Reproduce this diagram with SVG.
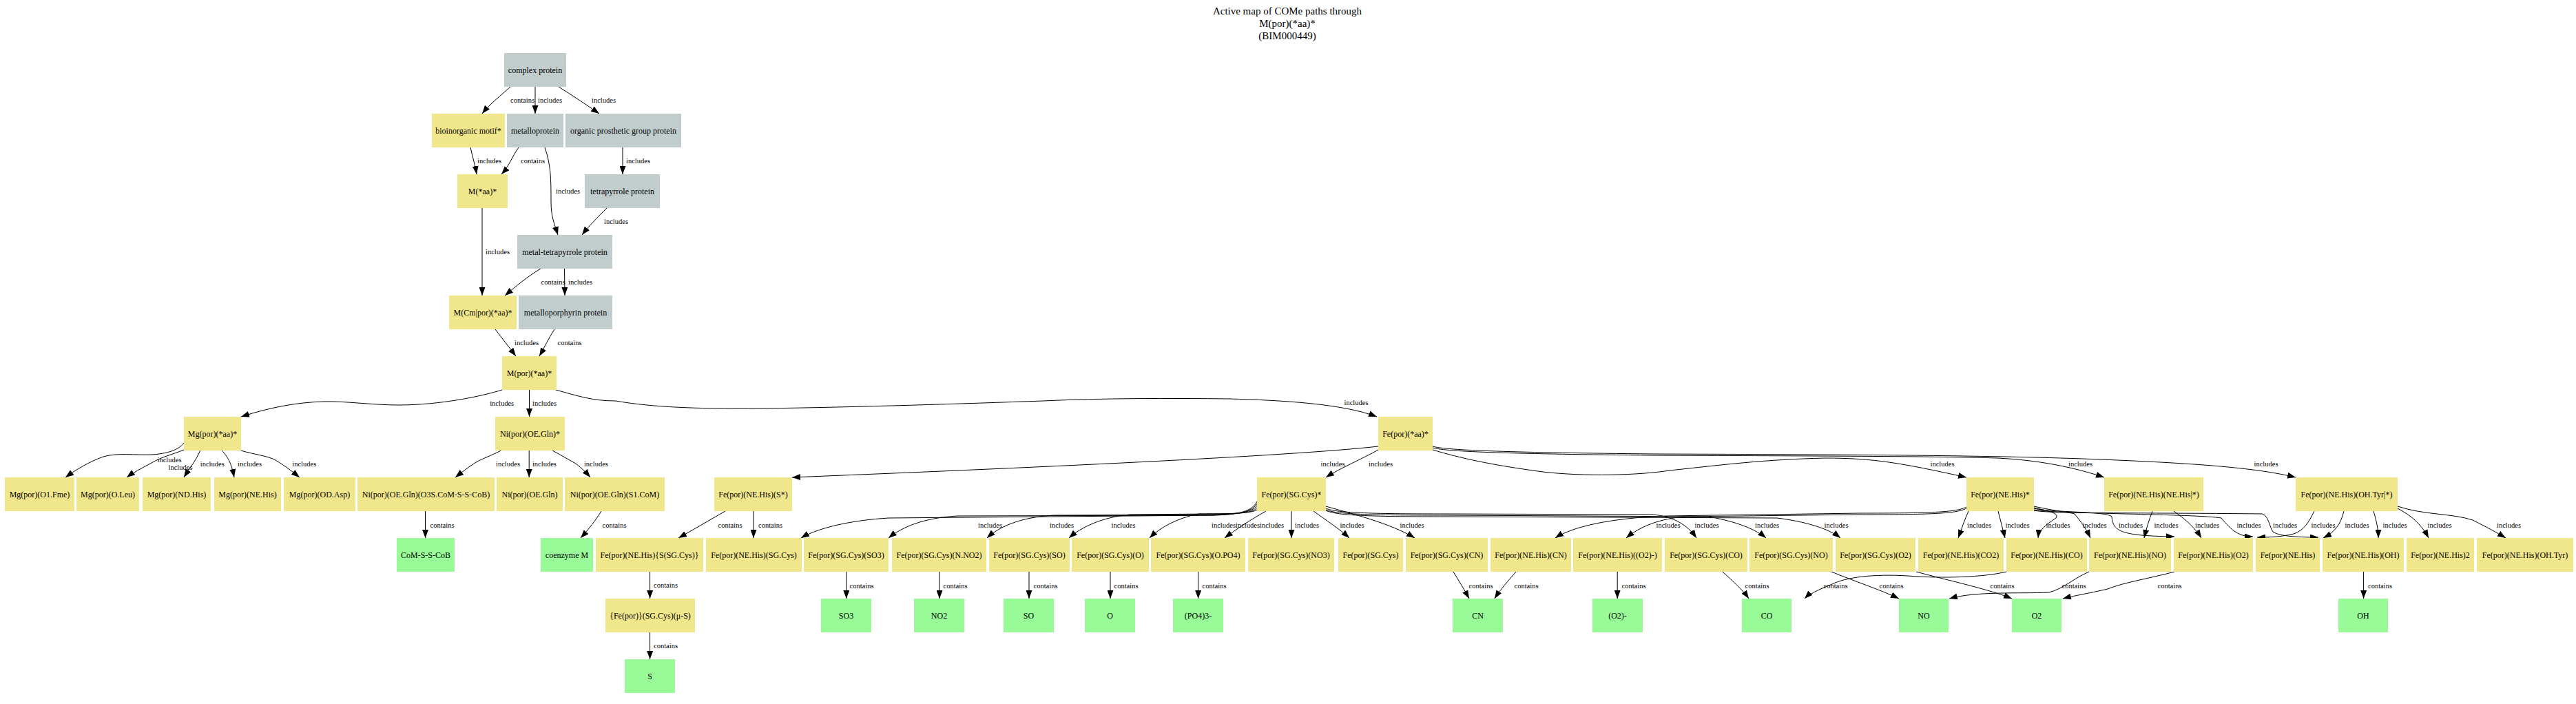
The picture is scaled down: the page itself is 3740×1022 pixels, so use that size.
<svg xmlns="http://www.w3.org/2000/svg" width="3740" height="1022" viewBox="0 0 3740 1022">
<style>
.y{fill:#f0e68c}
.g{fill:#c1cdcd}
.p{fill:#98fb98}
text{font-family:"Liberation Serif","Times New Roman",serif;fill:#000}
.n{font-size:12px;text-anchor:middle}
.l{font-size:10.5px;text-anchor:middle}
.t{font-size:15px;text-anchor:middle}
.e path{fill:none;stroke:#000;stroke-width:1;marker-end:url(#a)}
</style>
<defs>
<marker id="a" markerWidth="12" markerHeight="9" refX="12" refY="4.5" orient="auto" markerUnits="userSpaceOnUse"><path d="M0,0 L12,4.5 L0,9 z" style="fill:#000;stroke:none"/></marker>
</defs>
<rect x="0" y="0" width="3740" height="1022" fill="#fff"/>
<g id="title">
<text class="t" x="1869" y="21">Active map of COMe paths through</text>
<text class="t" x="1869" y="39">M(por)(*aa)*</text>
<text class="t" x="1869" y="57">(BIM000449)</text>
</g>
<g class="e" id="edges">
<path d="M741,126 C728,138 712,150 700,165"/>
<path d="M777,126 L777,165"/>
<path d="M811,126 C830,138 850,151 870,165"/>
<path d="M683,214 C686,228 690,240 692,253"/>
<path d="M753,214 C743,228 740,240 728,253"/>
<path d="M791,214 C800,240 800,260 800,293 C800,315 805,325 810,341"/>
<path d="M904,214 L904,253"/>
<path d="M881,302 C868,315 855,328 845,341"/>
<path d="M700,302 L700,429"/>
<path d="M785,390 C765,402 750,415 733,429"/>
<path d="M819.5,390 L820,429"/>
<path d="M719,478 C728,490 740,505 749,517"/>
<path d="M805,478 C797,490 790,505 783,517"/>
<path d="M729,566 C700,575 640,588 578,588 C540,588 500,582 470,583 C430,584 390,592 350,605"/>
<path d="M768.5,566 L768.5,605"/>
<path d="M807,566 C840,575 860,582 894,582 C940,590 1000,594 1107,593 C1250,591 1400,586 1514,582 C1600,578 1700,578 1785,579 C1860,581 1950,586 1999,605"/>
<path d="M267,643 C262,650 250,658 221,660 C195,661 170,657 150,663 C130,670 110,682 95,693"/>
<path d="M267,653 C250,660 235,663 220,672 C205,680 192,687 184,693"/>
<path d="M290.6,654 C285,668 275,680 267,693"/>
<path d="M322,654 C330,662 336,672 340,693"/>
<path d="M349.5,654 C370,660 390,662 400,668 C415,677 425,685 435,693"/>
<path d="M727.5,654 C712,662 700,666 693,670 C680,678 670,686 661,693"/>
<path d="M768.2,654 L768.2,693"/>
<path d="M802,654 C815,661 825,667 836,673 C845,680 852,687 857,693"/>
<path d="M617.5,742 L617.5,781"/>
<path d="M873,742 C865,755 855,768 843,781"/>
<path d="M943.6,830 L943.6,869"/>
<path d="M943.6,918 L943.6,957"/>
<path d="M2001,648 Q1850,665 1150,693"/>
<path d="M2001,653 C1980,665 1945,680 1925,693"/>
<path d="M2080,653 C2120,665 2165,675 2240,685 C2300,692 2380,690 2424,683 C2500,675 2560,667 2650,665 C2720,665 2760,672 2855,693"/>
<path d="M2080,650 C2100,656 2200,659 2400,661 C2600,662 2800,662 2900,665 C2960,668 3010,678 3055,693"/>
<path d="M2080,648 C2100,654 2200,657 2400,659 C2700,660 2900,661 3050,667 C3200,673 3280,680 3333,693"/>
<path d="M1053,742 C1030,755 1005,770 985,781"/>
<path d="M1094,742 L1094,781"/>
<path d="M1825,728 C1818,742 1800,747 1760,748 L1290,752 C1240,755 1190,765 1163,781"/>
<path d="M1825,731 C1818,743 1800,747 1760,748 L1390,749 C1340,752 1310,765 1290,781"/>
<path d="M1825,734 C1818,744 1800,746 1760,747 L1530,748 C1480,751 1450,765 1433,781"/>
<path d="M1825,737 C1818,745 1800,746 1760,746 L1640,747 C1600,751 1570,765 1552,781"/>
<path d="M1825,740 C1818,745 1790,746 1740,746 C1710,752 1685,765 1669,781"/>
<path d="M1838,742 C1815,755 1795,768 1778,781"/>
<path d="M1875,742 L1875,781"/>
<path d="M1907,742 C1925,755 1945,768 1959,781"/>
<path d="M1925,735 C1960,745 2020,760 2054,781"/>
<path d="M1925,738 C1940,745 2000,746 2100,746 L2400,747 C2430,750 2450,762 2463,781"/>
<path d="M1925,740 C1940,747 2000,748 2100,748 L2480,750 C2510,755 2545,765 2564,781"/>
<path d="M1925,741 C1940,749 2000,750 2100,750 L2580,752 C2620,757 2655,767 2672,781"/>
<path d="M2110,830 C2118,843 2126,856 2133,869"/>
<path d="M2201,830 C2190,843 2178,856 2170,869"/>
<path d="M2855,736 C2840,744 2800,745 2700,745 L2420,749 C2360,751 2290,760 2258,781"/>
<path d="M2855,738 C2840,746 2800,747 2700,747 L2450,750 C2410,752 2380,765 2361,781"/>
<path d="M2858,742 C2852,755 2848,768 2843,781"/>
<path d="M2901,742 C2904,755 2908,768 2911,781"/>
<path d="M2953,737 C2975,742 2990,745 2985,752 C2970,762 2960,770 2959,781"/>
<path d="M2953,735 C2985,742 3005,744 3012,746 C3022,758 3030,770 3035,781"/>
<path d="M2953,738 C2975,744 3060,742 3066,750 C3068,770 3075,778 3157,779"/>
<path d="M3125,742 C3120,755 3116,768 3113,781"/>
<path d="M3156,742 C3175,755 3188,768 3196,781"/>
<path d="M2953,740 C2980,746 3190,746 3225,752 C3240,770 3250,779 3271,779"/>
<path d="M2953,741 C2975,746 3100,744 3285,746 C3294,750 3295,765 3300,772 C3310,779 3340,780 3366,780"/>
<path d="M3360,742 C3352,758 3345,770 3330,775 C3310,780 3290,780 3277,780"/>
<path d="M3403,742 C3398,762 3390,772 3373,781"/>
<path d="M3446,742 C3450,755 3453,768 3453,781"/>
<path d="M3481,738 C3500,748 3515,760 3526,781"/>
<path d="M3481,735 C3520,748 3560,745 3590,755 C3610,765 3625,773 3638,781"/>
<path d="M1228.8,830 L1228.8,869"/>
<path d="M1364,830 L1364,869"/>
<path d="M1494,830 L1494,869"/>
<path d="M1612,830 L1612,869"/>
<path d="M1739.6,830 L1739.6,869"/>
<path d="M2348.2,830 L2348.2,869"/>
<path d="M2501,830 C2515,843 2530,856 2539,869"/>
<path d="M2913,830 C2880,838 2820,840 2770,836 C2720,833 2680,838 2660,848 C2635,858 2625,864 2620,869"/>
<path d="M2659,830 C2690,843 2730,856 2757,869"/>
<path d="M3033,830 C3010,840 2995,855 2975,860 C2930,862 2870,858 2830,869"/>
<path d="M2782,830 C2830,843 2890,856 2921,869"/>
<path d="M3157,830 C3120,840 3085,845 3060,855 C3030,862 3010,865 2995,869"/>
<path d="M3431.6,830 L3431.6,869"/>
</g>
<g id="edge-labels">
<text class="l" x="758.5" y="148.5">contains</text>
<text class="l" x="798.5" y="148.5">includes</text>
<text class="l" x="876.5" y="148.5">includes</text>
<text class="l" x="710.5" y="236.5">includes</text>
<text class="l" x="773.5" y="236.5">contains</text>
<text class="l" x="824.5" y="280.5">includes</text>
<text class="l" x="926.5" y="236.5">includes</text>
<text class="l" x="894.5" y="325">includes</text>
<text class="l" x="722.5" y="368.5">includes</text>
<text class="l" x="803" y="412.5">contains</text>
<text class="l" x="842.5" y="412.5">includes</text>
<text class="l" x="764.5" y="500.5">includes</text>
<text class="l" x="827" y="500.5">contains</text>
<text class="l" x="728.7" y="588.5">includes</text>
<text class="l" x="790.5" y="588.5">includes</text>
<text class="l" x="1969" y="587.5">includes</text>
<text class="l" x="246" y="671">includes</text>
<text class="l" x="262" y="682">includes</text>
<text class="l" x="308.3" y="676.5">includes</text>
<text class="l" x="362.6" y="676.5">includes</text>
<text class="l" x="441.8" y="676.5">includes</text>
<text class="l" x="737.5" y="676.5">includes</text>
<text class="l" x="790.4" y="676.5">includes</text>
<text class="l" x="865.4" y="676.5">includes</text>
<text class="l" x="1935" y="676.5">includes</text>
<text class="l" x="2004.5" y="676.5">includes</text>
<text class="l" x="2820" y="676.5">includes</text>
<text class="l" x="3020.5" y="676.5">includes</text>
<text class="l" x="3290" y="676.5">includes</text>
<text class="l" x="642" y="765.5">contains</text>
<text class="l" x="892" y="765.5">contains</text>
<text class="l" x="1060" y="765.5">contains</text>
<text class="l" x="1118.5" y="765.5">contains</text>
<text class="l" x="1437.5" y="765.5">includes</text>
<text class="l" x="1541.5" y="765.5">includes</text>
<text class="l" x="1631" y="765.5">includes</text>
<text class="l" x="1776.5" y="765.5">includes</text>
<text class="l" x="1811.5" y="765.5">includes</text>
<text class="l" x="1846.5" y="765.5">includes</text>
<text class="l" x="1897.5" y="765.5">includes</text>
<text class="l" x="1963" y="765.5">includes</text>
<text class="l" x="2050" y="765.5">includes</text>
<text class="l" x="2422" y="765.5">includes</text>
<text class="l" x="2478" y="765.5">includes</text>
<text class="l" x="2565.5" y="765.5">includes</text>
<text class="l" x="2666" y="765.5">includes</text>
<text class="l" x="2873.5" y="765.5">includes</text>
<text class="l" x="2929" y="765.5">includes</text>
<text class="l" x="2988" y="765.5">includes</text>
<text class="l" x="3041" y="765.5">includes</text>
<text class="l" x="3093.5" y="765.5">includes</text>
<text class="l" x="3145" y="765.5">includes</text>
<text class="l" x="3204.5" y="765.5">includes</text>
<text class="l" x="3265" y="765.5">includes</text>
<text class="l" x="3317.5" y="765.5">includes</text>
<text class="l" x="3373" y="765.5">includes</text>
<text class="l" x="3422" y="765.5">includes</text>
<text class="l" x="3477" y="765.5">includes</text>
<text class="l" x="3542" y="765.5">includes</text>
<text class="l" x="3642.5" y="765.5">includes</text>
<text class="l" x="966.5" y="852.5">contains</text>
<text class="l" x="1251" y="853.5">contains</text>
<text class="l" x="1387" y="853.5">contains</text>
<text class="l" x="1518" y="853.5">contains</text>
<text class="l" x="1635" y="853.5">contains</text>
<text class="l" x="1763" y="853.5">contains</text>
<text class="l" x="2150" y="853.5">contains</text>
<text class="l" x="2216" y="853.5">contains</text>
<text class="l" x="2372" y="853.5">contains</text>
<text class="l" x="2551" y="853.5">contains</text>
<text class="l" x="2665" y="853.5">contains</text>
<text class="l" x="2746" y="853.5">contains</text>
<text class="l" x="2907" y="853.5">contains</text>
<text class="l" x="3011" y="853.5">contains</text>
<text class="l" x="3150" y="853.5">contains</text>
<text class="l" x="3455.5" y="853.5">contains</text>
<text class="l" x="966.5" y="941">contains</text>
</g>
<g id="n1"><rect class="g" x="732" y="77" width="90" height="49"/><text class="n" x="777" y="105.5">complex protein</text></g>
<g id="n2"><rect class="y" x="627" y="165" width="106" height="49"/><text class="n" x="680" y="193.5">bioinorganic motif*</text></g>
<g id="n3"><rect class="g" x="736" y="165" width="82" height="49"/><text class="n" x="777" y="193.5">metalloprotein</text></g>
<g id="n4"><rect class="g" x="821" y="165" width="168" height="49"/><text class="n" x="905" y="193.5">organic prosthetic group protein</text></g>
<g id="n5"><rect class="y" x="664" y="253" width="73" height="49"/><text class="n" x="700.5" y="281.5">M(*aa)*</text></g>
<g id="n6"><rect class="g" x="849" y="253" width="109" height="49"/><text class="n" x="903.5" y="281.5">tetrapyrrole protein</text></g>
<g id="n7"><rect class="g" x="751" y="341" width="138" height="49"/><text class="n" x="820" y="369.5">metal-tetrapyrrole protein</text></g>
<g id="n8"><rect class="y" x="652" y="429" width="98" height="49"/><text class="n" x="701" y="457.5">M(Cm|por)(*aa)*</text></g>
<g id="n9"><rect class="g" x="753" y="429" width="136" height="49"/><text class="n" x="821" y="457.5">metalloporphyrin protein</text></g>
<g id="n10"><rect class="y" x="729" y="517" width="79" height="49"/><text class="n" x="768.5" y="545.5">M(por)(*aa)*</text></g>
<g id="n11"><rect class="y" x="267" y="605" width="83" height="49"/><text class="n" x="308.5" y="633.5">Mg(por)(*aa)*</text></g>
<g id="n12"><rect class="y" x="719" y="605" width="101" height="49"/><text class="n" x="769.5" y="633.5">Ni(por)(OE.Gln)*</text></g>
<g id="n13"><rect class="y" x="2001" y="605" width="79" height="49"/><text class="n" x="2040.5" y="633.5">Fe(por)(*aa)*</text></g>
<g id="n14"><rect class="y" x="7" y="693" width="101" height="49"/><text class="n" x="57.5" y="721.5">Mg(por)(O1.Fme)</text></g>
<g id="n15"><rect class="y" x="111" y="693" width="91" height="49"/><text class="n" x="156.5" y="721.5">Mg(por)(O.Leu)</text></g>
<g id="n16"><rect class="y" x="207" y="693" width="99" height="49"/><text class="n" x="256.5" y="721.5">Mg(por)(ND.His)</text></g>
<g id="n17"><rect class="y" x="311" y="693" width="97" height="49"/><text class="n" x="359.5" y="721.5">Mg(por)(NE.His)</text></g>
<g id="n18"><rect class="y" x="412" y="693" width="104" height="49"/><text class="n" x="464" y="721.5">Mg(por)(OD.Asp)</text></g>
<g id="n19"><rect class="y" x="519" y="693" width="199" height="49"/><text class="n" x="618.5" y="721.5">Ni(por)(OE.Gln)(O3S.CoM-S-S-CoB)</text></g>
<g id="n20"><rect class="y" x="721" y="693" width="96" height="49"/><text class="n" x="769" y="721.5">Ni(por)(OE.Gln)</text></g>
<g id="n21"><rect class="y" x="820" y="693" width="145" height="49"/><text class="n" x="892.5" y="721.5">Ni(por)(OE.Gln)(S1.CoM)</text></g>
<g id="n22"><rect class="y" x="1037" y="693" width="113" height="49"/><text class="n" x="1093.5" y="721.5">Fe(por)(NE.His)(S*)</text></g>
<g id="n23"><rect class="y" x="1825" y="693" width="100" height="49"/><text class="n" x="1875" y="721.5">Fe(por)(SG.Cys)*</text></g>
<g id="n24"><rect class="y" x="2855" y="693" width="98" height="49"/><text class="n" x="2904" y="721.5">Fe(por)(NE.His)*</text></g>
<g id="n25"><rect class="y" x="3055" y="693" width="144" height="49"/><text class="n" x="3127" y="721.5">Fe(por)(NE.His)(NE.His|*)</text></g>
<g id="n26"><rect class="y" x="3333" y="693" width="148" height="49"/><text class="n" x="3407" y="721.5">Fe(por)(NE.His)(OH.Tyr|*)</text></g>
<g id="n27"><rect class="p" x="576" y="781" width="84" height="49"/><text class="n" x="618" y="809.5">CoM-S-S-CoB</text></g>
<g id="n28"><rect class="p" x="785" y="781" width="76" height="49"/><text class="n" x="823" y="809.5">coenzyme M</text></g>
<g id="n29"><rect class="y" x="865" y="781" width="156" height="49"/><text class="n" x="943" y="809.5">Fe(por)(NE.His){S(SG.Cys)}</text></g>
<g id="n30"><rect class="y" x="1025" y="781" width="139" height="49"/><text class="n" x="1094.5" y="809.5">Fe(por)(NE.His)(SG.Cys)</text></g>
<g id="n31"><rect class="y" x="1167" y="781" width="123" height="49"/><text class="n" x="1228.5" y="809.5">Fe(por)(SG.Cys)(SO3)</text></g>
<g id="n32"><rect class="y" x="1295" y="781" width="137" height="49"/><text class="n" x="1363.5" y="809.5">Fe(por)(SG.Cys)(N.NO2)</text></g>
<g id="n33"><rect class="y" x="1436" y="781" width="117" height="49"/><text class="n" x="1494.5" y="809.5">Fe(por)(SG.Cys)(SO)</text></g>
<g id="n34"><rect class="y" x="1556" y="781" width="112" height="49"/><text class="n" x="1612" y="809.5">Fe(por)(SG.Cys)(O)</text></g>
<g id="n35"><rect class="y" x="1671" y="781" width="137" height="49"/><text class="n" x="1739.5" y="809.5">Fe(por)(SG.Cys)(O.PO4)</text></g>
<g id="n36"><rect class="y" x="1812" y="781" width="125" height="49"/><text class="n" x="1874.5" y="809.5">Fe(por)(SG.Cys)(NO3)</text></g>
<g id="n37"><rect class="y" x="1943" y="781" width="94" height="49"/><text class="n" x="1990" y="809.5">Fe(por)(SG.Cys)</text></g>
<g id="n38"><rect class="y" x="2041" y="781" width="119" height="49"/><text class="n" x="2100.5" y="809.5">Fe(por)(SG.Cys)(CN)</text></g>
<g id="n39"><rect class="y" x="2164" y="781" width="117" height="49"/><text class="n" x="2222.5" y="809.5">Fe(por)(NE.His)(CN)</text></g>
<g id="n40"><rect class="y" x="2284" y="781" width="129" height="49"/><text class="n" x="2348.5" y="809.5">Fe(por)(NE.His)((O2)-)</text></g>
<g id="n41"><rect class="y" x="2417" y="781" width="120" height="49"/><text class="n" x="2477" y="809.5">Fe(por)(SG.Cys)(CO)</text></g>
<g id="n42"><rect class="y" x="2540" y="781" width="121" height="49"/><text class="n" x="2600.5" y="809.5">Fe(por)(SG.Cys)(NO)</text></g>
<g id="n43"><rect class="y" x="2665" y="781" width="116" height="49"/><text class="n" x="2723" y="809.5">Fe(por)(SG.Cys)(O2)</text></g>
<g id="n44"><rect class="y" x="2785" y="781" width="124" height="49"/><text class="n" x="2847" y="809.5">Fe(por)(NE.His)(CO2)</text></g>
<g id="n45"><rect class="y" x="2913" y="781" width="117" height="49"/><text class="n" x="2971.5" y="809.5">Fe(por)(NE.His)(CO)</text></g>
<g id="n46"><rect class="y" x="3033" y="781" width="119" height="49"/><text class="n" x="3092.5" y="809.5">Fe(por)(NE.His)(NO)</text></g>
<g id="n47"><rect class="y" x="3156" y="781" width="115" height="49"/><text class="n" x="3213.5" y="809.5">Fe(por)(NE.His)(O2)</text></g>
<g id="n48"><rect class="y" x="3275" y="781" width="93" height="49"/><text class="n" x="3321.5" y="809.5">Fe(por)(NE.His)</text></g>
<g id="n49"><rect class="y" x="3372" y="781" width="118" height="49"/><text class="n" x="3431" y="809.5">Fe(por)(NE.His)(OH)</text></g>
<g id="n50"><rect class="y" x="3494" y="781" width="98" height="49"/><text class="n" x="3543" y="809.5">Fe(por)(NE.His)2</text></g>
<g id="n51"><rect class="y" x="3596" y="781" width="140" height="49"/><text class="n" x="3666" y="809.5">Fe(por)(NE.His)(OH.Tyr)</text></g>
<g id="n52"><rect class="y" x="879" y="869" width="130" height="49"/><text class="n" x="944" y="897.5">{Fe(por)}(SG.Cys)(μ-S)</text></g>
<g id="n53"><rect class="p" x="1192" y="869" width="73" height="49"/><text class="n" x="1228.5" y="897.5">SO3</text></g>
<g id="n54"><rect class="p" x="1327" y="869" width="73" height="49"/><text class="n" x="1363.5" y="897.5">NO2</text></g>
<g id="n55"><rect class="p" x="1457" y="869" width="73" height="49"/><text class="n" x="1493.5" y="897.5">SO</text></g>
<g id="n56"><rect class="p" x="1575" y="869" width="73" height="49"/><text class="n" x="1611.5" y="897.5">O</text></g>
<g id="n57"><rect class="p" x="1703" y="869" width="73" height="49"/><text class="n" x="1739.5" y="897.5">(PO4)3-</text></g>
<g id="n58"><rect class="p" x="2109" y="869" width="73" height="49"/><text class="n" x="2145.5" y="897.5">CN</text></g>
<g id="n59"><rect class="p" x="2312" y="869" width="73" height="49"/><text class="n" x="2348.5" y="897.5">(O2)-</text></g>
<g id="n60"><rect class="p" x="2529" y="869" width="72" height="49"/><text class="n" x="2565" y="897.5">CO</text></g>
<g id="n61"><rect class="p" x="2757" y="869" width="72" height="49"/><text class="n" x="2793" y="897.5">NO</text></g>
<g id="n62"><rect class="p" x="2921" y="869" width="72" height="49"/><text class="n" x="2957" y="897.5">O2</text></g>
<g id="n63"><rect class="p" x="3395" y="869" width="72" height="49"/><text class="n" x="3431" y="897.5">OH</text></g>
<g id="n64"><rect class="p" x="907" y="957" width="73" height="49"/><text class="n" x="943.5" y="985.5">S</text></g>
</svg>
